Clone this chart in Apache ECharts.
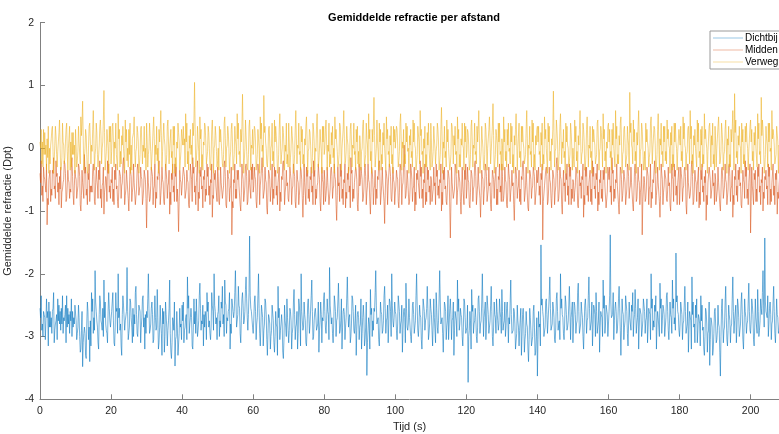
<!DOCTYPE html>
<html>
<head>
<meta charset="utf-8">
<script src="https://cdn.jsdelivr.net/npm/echarts@6/dist/echarts.min.js"></script>
<style>
  html, body { margin: 0; padding: 0; background: #fff; }
  #chart { width: 779px; height: 434px; }
</style>
</head>
<body>
<div id="chart"></div>
<script>
// three sample sets per curve, read in 0.5 s rows: "A" at t = 0, 0.5, 1 ...,
// "B" 1/6 step later and "C" 2/6 step later
const step = 0.5;
const seriesNames = ['Dichtbij', 'Midden', 'Verweg'];
const xTicks = [0, 20, 40, 60, 80, 100, 120, 140, 160, 180, 200];
const yTicks = [-4, -3, -2, -1, 0, 1, 2];

const dichtbijA = [
  -2.55,-2.9,-2.6,-3.05,-2.7,-2.45,-2.85,-2.6,-3.1,-2.75,-2.4,-2.8,-2.55,-2.95,-2.65,-2.35,-2.8,-2.6,-3.0,-2.7,
  -2.5,-2.95,-2.7,-3.2,-3.48,-2.85,-3.35,-2.6,-3.4,-2.3,-2.95,-1.95,-2.75,-3.2,-2.45,-2.9,-2.1,-2.8,-3.1,-2.55,
  -2.85,-2.3,-3.15,-2.6,-2.0,-2.9,-3.3,-2.5,-2.75,-1.9,-2.95,-2.45,-3.1,-2.65,-2.2,-3.0,-2.55,-2.85,-2.35,-3.2,
  -2.6,-2.0,-2.9,-2.45,-3.05,-2.7,-2.25,-3.1,-2.8,-2.55,-3.25,-2.65,-2.9,-2.1,-3.35,-2.75,-3.47,-2.6,-3.3,-2.85,
  -2.5,-3.1,-2.7,-2.05,-2.95,-2.55,-3.2,-2.8,-2.4,-2.9,-2.15,-2.75,-3.15,-2.6,-2.3,-2.85,-3.05,-2.5,-2.0,-2.8,
  -2.65,-3.0,-2.45,-2.8,-2.1,-2.95,-2.6,-3.2,-2.4,-2.7,-1.95,-2.85,-2.5,-3.1,-2.3,-2.75,-2.05,-2.9,-1.4,-2.6,
  -2.95,-2.35,-2.8,-2.0,-3.15,-2.6,-2.9,-2.45,-3.3,-2.7,-3.0,-2.5,-3.25,-2.8,-2.2,-3.05,-2.65,-3.35,-2.75,-2.4,
  -3.1,-2.6,-2.95,-2.25,-2.85,-3.2,-2.5,-2.0,-2.9,-2.65,-3.15,-2.4,-2.8,-2.1,-3.0,-2.55,-2.85,-3.25,-2.45,-2.7,
  -2.3,-2.95,-2.6,-1.9,-2.8,-3.1,-2.45,-2.75,-2.15,-2.9,-3.2,-2.55,-2.85,-2.05,-2.7,-3.0,-2.4,-2.95,-3.3,-2.6,
  -2.85,-3.2,-2.5,-3.05,-3.62,-2.7,-2.25,-3.0,-2.55,-1.95,-2.8,-3.15,-2.6,-2.9,-2.2,-2.75,-3.1,-2.45,-2.0,-2.85,
  -2.6,-3.05,-2.35,-2.8,-3.25,-2.55,-2.15,-2.9,-2.7,-3.1,-2.45,-2.85,-2.0,-3.0,-2.65,-3.2,-2.5,-2.75,-2.2,-2.95,
  -2.55,-3.15,-2.7,-2.3,-2.95,-1.95,-2.8,-3.25,-2.5,-2.85,-3.05,-2.4,-2.75,-3.3,-2.6,-2.1,-2.9,-2.65,-3.15,-2.45,
  -2.9,-3.73,-2.6,-2.25,-2.95,-2.55,-3.1,-2.35,-2.8,-2.0,-2.7,-3.05,-2.5,-2.85,-2.2,-3.15,-2.65,-2.4,-2.9,-2.6,
  -2.25,-2.8,-3.0,-2.45,-2.7,-2.1,-2.95,-2.6,-3.2,-2.75,-2.9,-3.3,-2.55,-3.05,-2.8,-3.4,-2.7,-3.15,-2.5,-3.25,
  -3.63,-2.85,-1.54,-2.6,-3.0,-2.4,-2.75,-2.05,-2.9,-2.55,-3.1,-2.3,-2.8,-2.0,-2.65,-3.05,-2.45,-2.85,-2.2,-2.7,
  -3.1,-2.5,-2.8,-2.15,-2.95,-2.6,-3.2,-2.4,-2.75,-2.05,-2.9,-3.15,-2.55,-2.3,-2.85,-3.25,-2.65,-2.1,-2.95,-2.5,
  -2.8,-1.38,-2.7,-3.05,-2.45,-2.9,-2.2,-3.3,-2.6,-2.85,-2.35,-3.15,-2.7,-2.5,-3.0,-2.25,-2.8,-3.2,-2.55,-2.9,
  -2.4,-2.75,-3.1,-2.6,-2.0,-2.9,-2.5,-3.2,-2.7,-2.15,-2.95,-2.55,-2.85,-2.3,-3.05,-2.65,-2.1,-2.8,-1.67,-2.6,
  -3.0,-2.45,-2.8,-2.2,-2.95,-3.25,-2.6,-2.05,-2.85,-2.5,-3.1,-2.7,-2.35,-2.9,-3.3,-2.6,-2.95,-3.46,-2.75,-3.2,
  -2.55,-3.05,-2.8,-3.63,-2.4,-2.9,-2.2,-3.15,-2.65,-2.85,-2.05,-2.75,-3.1,-2.5,-2.9,-2.3,-3.2,-2.6,-2.8,-2.15,
  -2.95,-2.5,-3.15,-2.7,-2.25,-2.9,-2.55,-1.95,-1.43,-2.6,-3.0,-2.45,-2.8,-2.2,-3.1,-2.65,-2.9,-2.4,-2.75,-2.55
];
const dichtbijB = [
  -2.7,-2.8,-2.65,-2.75,-2.6,-2.85,-2.7,-2.55,-2.9,-2.65,-2.75,-2.6,-2.8,-2.7,-2.5,-2.85,-2.65,-2.75,-2.6,-2.8,
  -2.75,-2.85,-3.0,-2.9,-3.1,-2.95,-2.8,-3.05,-2.75,-2.6,-2.7,-2.45,-2.85,-2.65,-2.75,-2.55,-2.7,-2.9,-2.6,-2.75,
  -2.6,-2.75,-2.85,-2.55,-2.7,-2.8,-2.65,-2.5,-2.75,-2.6,-2.85,-2.7,-2.55,-2.8,-2.65,-2.75,-2.6,-2.7,-2.85,-2.65,
  -2.7,-2.55,-2.8,-2.65,-2.75,-2.9,-2.7,-2.85,-2.95,-2.8,-3.0,-2.85,-2.75,-2.95,-3.1,-2.9,-3.05,-2.85,-2.95,-2.8,
  -2.75,-2.9,-2.65,-2.55,-2.8,-2.7,-2.85,-2.6,-2.7,-2.75,-2.55,-2.8,-2.65,-2.7,-2.6,-2.75,-2.85,-2.6,-2.5,-2.7,
  -2.6,-2.75,-2.55,-2.65,-2.45,-2.7,-2.55,-2.8,-2.5,-2.6,-2.45,-2.65,-2.55,-2.75,-2.5,-2.6,-2.4,-2.65,-2.35,-2.6,
  -2.75,-2.6,-2.7,-2.55,-2.85,-2.7,-2.8,-2.65,-2.95,-2.8,-2.9,-2.75,-3.0,-2.85,-2.7,-2.9,-2.8,-3.05,-2.85,-2.7,
  -2.9,-2.75,-2.85,-2.65,-2.8,-2.95,-2.7,-2.6,-2.85,-2.75,-2.9,-2.65,-2.8,-2.6,-2.75,-2.7,-2.8,-2.9,-2.65,-2.75,
  -2.6,-2.75,-2.65,-2.5,-2.7,-2.8,-2.6,-2.7,-2.55,-2.75,-2.85,-2.65,-2.7,-2.5,-2.65,-2.8,-2.6,-2.75,-2.9,-2.7,
  -2.8,-2.95,-2.7,-2.85,-3.1,-2.8,-2.65,-2.75,-2.6,-2.5,-2.7,-2.85,-2.65,-2.75,-2.55,-2.7,-2.8,-2.6,-2.5,-2.7,
  -2.65,-2.8,-2.6,-2.75,-2.9,-2.7,-2.55,-2.8,-2.7,-2.85,-2.65,-2.75,-2.5,-2.8,-2.7,-2.85,-2.6,-2.7,-2.55,-2.8,
  -2.65,-2.8,-2.7,-2.55,-2.75,-2.45,-2.7,-2.85,-2.6,-2.75,-2.8,-2.65,-2.7,-2.9,-2.75,-2.6,-2.8,-2.7,-2.85,-2.7,
  -2.85,-3.0,-2.75,-2.6,-2.8,-2.7,-2.85,-2.6,-2.75,-2.55,-2.7,-2.8,-2.65,-2.75,-2.6,-2.85,-2.7,-2.6,-2.8,-2.7,
  -2.6,-2.75,-2.85,-2.7,-2.8,-2.65,-2.9,-2.8,-2.95,-2.85,-2.9,-3.0,-2.8,-2.95,-2.85,-3.05,-2.9,-3.0,-2.85,-3.0,
  -3.05,-2.8,-2.5,-2.7,-2.85,-2.65,-2.75,-2.55,-2.8,-2.7,-2.85,-2.6,-2.75,-2.55,-2.7,-2.8,-2.65,-2.75,-2.6,-2.7,
  -2.8,-2.65,-2.75,-2.6,-2.8,-2.7,-2.85,-2.6,-2.7,-2.55,-2.75,-2.85,-2.65,-2.6,-2.75,-2.85,-2.7,-2.55,-2.8,-2.65,
  -2.6,-2.45,-2.65,-2.75,-2.6,-2.7,-2.55,-2.85,-2.65,-2.75,-2.6,-2.8,-2.7,-2.6,-2.75,-2.55,-2.7,-2.85,-2.65,-2.75,
  -2.6,-2.7,-2.85,-2.65,-2.55,-2.75,-2.6,-2.8,-2.7,-2.55,-2.75,-2.65,-2.7,-2.6,-2.8,-2.7,-2.55,-2.7,-2.45,-2.65,
  -2.8,-2.65,-2.75,-2.6,-2.8,-2.9,-2.75,-2.65,-2.8,-2.7,-2.9,-2.8,-2.75,-2.85,-3.0,-2.8,-2.9,-3.05,-2.85,-2.95,
  -2.8,-2.9,-2.85,-3.0,-2.75,-2.85,-2.7,-2.9,-2.75,-2.8,-2.6,-2.75,-2.85,-2.7,-2.8,-2.65,-2.85,-2.7,-2.75,-2.6,
  -2.75,-2.65,-2.85,-2.7,-2.6,-2.75,-2.65,-2.5,-2.45,-2.7,-2.8,-2.65,-2.75,-2.6,-2.8,-2.7,-2.75,-2.6,-2.7,-2.65
];
const dichtbijC = [
  -2.35,-3.0,-2.7,-2.4,-3.15,-2.6,-2.95,-2.3,-2.8,-3.05,-2.5,-2.9,-2.35,-2.75,-3.1,-2.55,-2.95,-2.4,-2.85,-2.5,
  -3.05,-2.5,-3.25,-2.6,-2.95,-3.3,-2.45,-2.85,-3.15,-2.4,-2.9,-2.6,-3.1,-2.35,-2.8,-3.0,-2.45,-2.95,-2.3,-2.85,
  -2.45,-3.1,-2.3,-2.95,-2.55,-3.15,-2.35,-2.9,-2.6,-3.05,-2.4,-2.85,-3.0,-2.3,-2.95,-2.5,-3.1,-2.4,-2.7,-2.95,
  -2.4,-2.95,-2.55,-3.1,-2.35,-2.85,-3.2,-2.5,-3.3,-2.6,-2.45,-3.15,-2.55,-3.25,-2.7,-2.45,-3.0,-3.3,-2.55,-3.05,
  -2.45,-2.85,-3.05,-2.35,-2.7,-3.15,-2.4,-2.95,-3.0,-2.35,-2.9,-2.5,-2.85,-3.05,-2.45,-2.95,-2.3,-2.9,-2.6,-3.05,
  -2.35,-2.85,-2.2,-3.0,-2.5,-2.75,-2.3,-2.95,-2.6,-2.3,-2.85,-2.2,-2.95,-2.4,-2.8,-2.25,-2.7,-2.3,-2.55,-2.85,
  -2.45,-3.05,-2.35,-2.95,-2.5,-3.15,-2.4,-3.05,-2.65,-3.2,-2.5,-3.1,-2.6,-3.3,-2.55,-2.8,-3.25,-2.5,-3.0,-2.9,
  -2.55,-3.2,-2.45,-3.05,-2.6,-2.4,-3.15,-2.75,-2.45,-3.1,-2.5,-2.95,-2.35,-3.05,-2.6,-2.9,-2.45,-2.75,-3.1,-2.4,
  -2.85,-2.4,-3.05,-2.5,-2.95,-2.35,-3.0,-2.45,-2.95,-2.4,-2.6,-3.05,-2.4,-2.85,-3.1,-2.35,-2.9,-2.5,-2.65,-3.05,
  -2.4,-2.7,-3.15,-2.45,-2.9,-3.2,-2.55,-2.9,-2.3,-2.8,-3.05,-2.45,-2.95,-2.35,-2.95,-2.5,-2.4,-3.0,-2.75,-2.45,
  -2.9,-2.35,-2.95,-2.5,-2.6,-3.1,-2.85,-2.4,-3.0,-2.5,-2.95,-2.35,-2.9,-2.5,-3.05,-2.4,-2.9,-2.55,-3.05,-2.4,
  -2.9,-2.4,-3.1,-2.85,-2.4,-2.8,-2.95,-2.45,-3.05,-2.35,-2.55,-3.05,-2.45,-2.6,-3.0,-2.4,-2.55,-3.0,-2.4,-2.95,
  -2.5,-2.9,-3.2,-2.5,-2.75,-3.0,-2.4,-2.95,-2.45,-3.0,-2.45,-2.35,-2.95,-2.5,-3.0,-2.45,-2.95,-2.75,-2.4,-2.95,
  -2.9,-2.45,-2.55,-3.1,-2.45,-2.95,-2.55,-3.2,-2.5,-3.15,-2.55,-2.65,-3.25,-2.6,-3.2,-2.55,-3.15,-2.6,-3.3,-2.7,
  -2.6,-3.15,-2.4,-3.0,-2.45,-2.95,-2.35,-2.9,-2.45,-3.05,-2.4,-2.9,-3.05,-2.4,-2.95,-2.35,-2.9,-2.5,-3.05,-2.45,
  -2.45,-2.95,-2.3,-2.95,-2.45,-3.0,-2.5,-2.95,-2.35,-2.9,-2.45,-2.5,-3.0,-2.95,-2.45,-2.6,-3.0,-2.35,-2.5,-3.0,
  -2.35,-2.7,-2.3,-2.55,-2.95,-2.4,-2.9,-2.4,-3.05,-2.35,-2.95,-2.45,-2.9,-2.3,-2.65,-2.95,-2.4,-2.55,-3.0,-2.4,
  -2.95,-2.4,-2.55,-3.05,-2.4,-2.85,-2.35,-2.6,-3.0,-2.4,-2.5,-3.0,-2.35,-2.9,-2.45,-2.95,-2.4,-2.9,-2.35,-2.9,
  -2.45,-3.05,-2.5,-2.95,-2.45,-2.6,-3.2,-2.45,-3.1,-2.4,-2.65,-3.15,-2.5,-3.2,-2.55,-3.25,-2.45,-2.7,-3.3,-2.6,
  -3.1,-2.5,-3.25,-2.55,-3.1,-2.45,-3.05,-2.5,-3.1,-2.4,-2.95,-2.5,-2.4,-3.0,-2.45,-3.05,-2.4,-2.95,-2.45,-2.9,
  -2.4,-3.05,-2.4,-2.95,-3.0,-2.4,-2.3,-2.85,-2.6,-2.35,-2.55,-3.05,-2.45,-2.95,-2.4,-2.95,-2.45,-2.95,-2.4,-2.85
];

const middenA = [
  -0.4,-0.75,-0.3,-0.6,-1.22,-0.5,-0.85,-0.35,-0.65,-0.2,-0.7,-0.45,-0.95,-0.55,-0.25,-0.8,-0.5,-0.65,-0.15,-0.9,
  -0.45,-0.7,-0.3,-1.0,-0.55,-0.1,-0.75,-0.4,-0.85,-0.6,-0.25,-0.9,-0.5,-0.35,-0.8,-0.6,-1.05,-0.45,-0.2,-0.7,
  -0.5,-0.85,-0.35,-0.65,-0.95,-0.4,-0.6,-0.15,-0.75,-0.5,-1.0,-0.3,-0.7,-0.55,-0.9,-0.25,-0.65,-0.45,-0.8,-0.35,
  -1.27,-0.55,-0.8,-0.3,-0.65,-0.95,-0.45,-0.2,-0.75,-0.5,-0.9,-0.35,-0.6,-1.05,-0.4,-0.7,-0.25,-0.85,-1.33,-0.5,
  -0.6,-0.3,-0.8,-0.5,-0.95,-0.4,-0.15,-0.7,-0.55,-1.0,-0.35,-0.65,-0.45,-0.85,-0.25,-0.75,-0.5,-1.1,-0.4,-0.6,
  -0.3,-0.9,-0.55,-0.7,-0.2,-0.95,-0.45,-0.65,-1.38,-0.5,-0.8,-0.35,-0.6,-1.0,-0.4,-0.75,-0.25,-0.85,-0.55,-0.3,
  -0.7,-0.45,-0.95,-0.35,-0.6,-0.15,-0.8,-0.5,-1.05,-0.4,-0.65,-0.9,-0.3,-0.75,-0.55,-1.0,-0.45,-0.2,-0.7,-0.6,
  -0.85,-0.4,-0.65,-0.25,-0.95,-0.5,-0.75,-0.35,-1.1,-0.55,-0.3,-0.8,-0.45,-0.7,-0.2,-0.9,-0.6,-0.4,-1.0,-0.5,
  -0.35,-0.75,-0.55,-0.9,-0.3,-0.65,-0.45,-1.15,-0.6,-0.25,-0.8,-0.5,-0.95,-0.4,-0.7,-0.15,-0.85,-0.55,-0.35,-1.0,
  -0.6,-0.4,-0.8,-0.25,-0.7,-0.5,-1.05,-0.35,-0.65,-0.9,-0.45,-0.2,-0.75,-0.55,-1.2,-0.4,-0.6,-0.3,-0.85,-0.5,
  -0.7,-0.45,-0.95,-0.3,-0.6,0.05,-0.75,-0.5,-0.85,-0.35,-0.65,-1.0,-0.4,-0.55,-0.2,-0.8,-0.5,-0.9,-0.3,-0.7,
  -0.45,-0.85,-0.6,-0.25,-0.75,-0.5,-1.0,-0.35,-0.65,-0.9,-0.4,-1.43,-0.55,-0.8,-0.3,-0.7,-0.45,-1.05,-0.6,-0.35,
  -0.8,-0.5,-0.95,-0.4,-0.65,-0.2,-0.75,-0.55,-1.1,-0.45,-0.7,-0.3,-0.85,-0.6,-1.0,-0.35,-0.55,-0.9,-0.45,-0.7,
  -0.25,-0.8,-0.5,-0.95,-0.4,-0.7,-0.6,-1.15,-0.35,-0.65,-0.85,-0.45,-0.2,-0.75,-0.55,-1.0,-0.4,-0.65,-0.3,-0.9,
  -0.55,-0.75,-0.4,-1.46,-0.6,-0.3,-0.85,-0.5,-0.95,-0.35,-0.7,-0.15,-0.8,-0.45,-1.05,-0.6,-0.4,-0.75,-0.25,-0.9,
  -0.5,-0.7,-0.35,-0.95,-0.6,-0.45,-1.1,-0.3,-0.75,-0.55,-0.85,-0.2,-0.65,-0.4,-1.0,-0.5,-0.8,-0.35,-0.6,-0.95,
  -0.4,-0.7,-0.15,-0.85,-0.5,-0.6,-1.05,-0.35,-0.75,-0.45,-0.9,-0.3,-0.65,-0.55,-1.0,-0.25,-0.8,-0.5,-0.7,-1.38,
  -0.45,-0.8,-0.3,-0.65,-0.95,-0.5,-0.2,-0.75,-0.55,-1.1,-0.4,-0.7,-0.35,-0.85,-0.6,-1.0,-0.45,-0.25,-0.75,-0.55,
  -0.9,-0.4,-0.65,-0.3,-1.05,-0.55,-0.75,-0.2,-0.85,-0.5,-0.6,-0.95,-0.35,-0.7,-0.45,-1.15,-0.55,-0.3,-0.8,-0.6,
  -0.4,-0.85,-0.55,-1.0,-0.3,-0.7,-0.5,-0.9,-0.25,-0.65,-1.1,-0.45,-0.75,-0.35,-0.6,-0.95,-0.5,-0.2,-0.8,-0.55,
  -1.35,-0.6,-0.4,-0.85,-0.3,-0.7,-0.5,-1.0,-0.45,-0.65,-0.25,-0.9,-0.55,-0.75,-0.4,-1.05,-0.6,-0.35,-0.8,-0.5
];
const middenB = [
  -0.55,-0.6,-0.45,-0.7,-0.8,-0.5,-0.65,-0.4,-0.6,-0.45,-0.55,-0.65,-0.7,-0.5,-0.4,-0.6,-0.55,-0.7,-0.45,-0.6,
  -0.5,-0.6,-0.45,-0.75,-0.55,-0.4,-0.65,-0.5,-0.6,-0.7,-0.45,-0.55,-0.6,-0.5,-0.65,-0.55,-0.7,-0.5,-0.4,-0.6,
  -0.55,-0.65,-0.5,-0.6,-0.7,-0.45,-0.55,-0.4,-0.65,-0.5,-0.7,-0.45,-0.6,-0.55,-0.65,-0.4,-0.6,-0.5,-0.65,-0.5,
  -0.8,-0.55,-0.6,-0.45,-0.6,-0.7,-0.5,-0.45,-0.6,-0.55,-0.65,-0.5,-0.55,-0.7,-0.5,-0.6,-0.45,-0.65,-0.85,-0.55,
  -0.6,-0.45,-0.65,-0.55,-0.7,-0.5,-0.4,-0.6,-0.55,-0.7,-0.45,-0.6,-0.5,-0.65,-0.45,-0.6,-0.55,-0.75,-0.5,-0.6,
  -0.45,-0.65,-0.55,-0.6,-0.45,-0.7,-0.5,-0.6,-0.85,-0.55,-0.65,-0.5,-0.6,-0.7,-0.5,-0.6,-0.45,-0.65,-0.55,-0.5,
  -0.6,-0.5,-0.7,-0.45,-0.6,-0.4,-0.65,-0.55,-0.7,-0.5,-0.6,-0.65,-0.45,-0.6,-0.55,-0.7,-0.5,-0.45,-0.6,-0.55,
  -0.65,-0.5,-0.6,-0.45,-0.7,-0.55,-0.6,-0.5,-0.75,-0.55,-0.45,-0.65,-0.5,-0.6,-0.45,-0.65,-0.55,-0.5,-0.7,-0.55,
  -0.5,-0.6,-0.55,-0.65,-0.45,-0.6,-0.5,-0.75,-0.55,-0.45,-0.65,-0.55,-0.7,-0.5,-0.6,-0.4,-0.65,-0.55,-0.5,-0.7,
  -0.55,-0.5,-0.65,-0.45,-0.6,-0.55,-0.7,-0.5,-0.6,-0.65,-0.5,-0.45,-0.6,-0.55,-0.75,-0.5,-0.6,-0.45,-0.65,-0.55,
  -0.6,-0.5,-0.7,-0.45,-0.55,-0.3,-0.6,-0.5,-0.65,-0.5,-0.6,-0.7,-0.5,-0.55,-0.45,-0.65,-0.55,-0.7,-0.5,-0.6,
  -0.5,-0.65,-0.55,-0.45,-0.6,-0.55,-0.7,-0.5,-0.6,-0.65,-0.5,-0.85,-0.55,-0.65,-0.45,-0.6,-0.55,-0.7,-0.6,-0.5,
  -0.65,-0.55,-0.7,-0.5,-0.6,-0.45,-0.6,-0.55,-0.75,-0.5,-0.6,-0.45,-0.65,-0.55,-0.7,-0.5,-0.55,-0.65,-0.5,-0.6,
  -0.45,-0.65,-0.55,-0.7,-0.5,-0.6,-0.55,-0.75,-0.5,-0.6,-0.65,-0.5,-0.45,-0.6,-0.55,-0.7,-0.5,-0.6,-0.45,-0.65,
  -0.55,-0.6,-0.5,-0.85,-0.6,-0.45,-0.65,-0.55,-0.7,-0.5,-0.6,-0.4,-0.65,-0.5,-0.7,-0.55,-0.5,-0.6,-0.45,-0.65,
  -0.55,-0.6,-0.5,-0.7,-0.55,-0.5,-0.75,-0.45,-0.6,-0.55,-0.65,-0.45,-0.6,-0.5,-0.7,-0.55,-0.65,-0.5,-0.6,-0.7,
  -0.5,-0.6,-0.4,-0.65,-0.55,-0.6,-0.7,-0.5,-0.6,-0.55,-0.65,-0.45,-0.6,-0.55,-0.7,-0.45,-0.6,-0.55,-0.6,-0.85,
  -0.55,-0.65,-0.45,-0.6,-0.7,-0.55,-0.45,-0.6,-0.55,-0.75,-0.5,-0.6,-0.5,-0.65,-0.55,-0.7,-0.5,-0.45,-0.6,-0.55,
  -0.65,-0.5,-0.6,-0.45,-0.7,-0.55,-0.6,-0.45,-0.65,-0.55,-0.6,-0.7,-0.5,-0.6,-0.55,-0.75,-0.55,-0.5,-0.6,-0.55,
  -0.5,-0.65,-0.55,-0.7,-0.5,-0.6,-0.55,-0.65,-0.45,-0.6,-0.75,-0.5,-0.6,-0.5,-0.55,-0.7,-0.55,-0.45,-0.65,-0.55,
  -0.85,-0.6,-0.5,-0.65,-0.45,-0.6,-0.55,-0.7,-0.5,-0.6,-0.45,-0.65,-0.55,-0.6,-0.5,-0.7,-0.6,-0.5,-0.65,-0.55
];
const middenC = [
  -0.2,-0.85,-0.5,-0.25,-0.9,-0.35,-0.75,-0.15,-0.8,-0.4,-0.9,-0.3,-0.65,-0.2,-0.85,-0.35,-0.8,-0.25,-0.75,-0.35,
  -0.8,-0.25,-0.9,-0.35,-0.8,-0.3,-0.9,-0.25,-0.7,-0.35,-0.85,-0.3,-0.8,-0.2,-0.95,-0.3,-0.6,-0.85,-0.25,-0.8,
  -0.3,-0.9,-0.25,-0.85,-0.35,-0.8,-0.25,-0.9,-0.35,-0.8,-0.3,-0.85,-0.25,-0.9,-0.35,-0.75,-0.3,-0.9,-0.35,-0.8,
  -0.35,-0.85,-0.3,-0.9,-0.25,-0.8,-0.35,-0.9,-0.3,-0.85,-0.25,-0.8,-0.35,-0.9,-0.25,-0.85,-0.3,-0.9,-0.35,-0.75,
  -0.3,-0.8,-0.35,-0.9,-0.25,-0.85,-0.3,-0.9,-0.2,-0.8,-0.3,-0.95,-0.35,-0.75,-0.3,-0.9,-0.25,-0.8,-0.35,-0.85,
  -0.85,-0.3,-0.8,-0.25,-0.9,-0.35,-0.85,-0.3,-0.95,-0.25,-0.8,-0.35,-0.9,-0.25,-0.85,-0.3,-0.9,-0.35,-0.8,-0.25,
  -0.3,-0.85,-0.25,-0.9,-0.35,-0.8,-0.3,-0.95,-0.35,-0.85,-0.25,-0.8,-0.35,-0.9,-0.3,-0.85,-0.25,-0.9,-0.35,-0.8,
  -0.3,-0.9,-0.25,-0.85,-0.35,-0.9,-0.3,-0.8,-0.25,-0.9,-0.35,-0.85,-0.3,-0.9,-0.35,-0.8,-0.25,-0.85,-0.3,-0.9,
  -0.85,-0.3,-0.9,-0.35,-0.8,-0.25,-0.9,-0.3,-0.85,-0.35,-0.9,-0.25,-0.8,-0.3,-0.95,-0.35,-0.8,-0.3,-0.9,-0.25,
  -0.3,-0.85,-0.35,-0.9,-0.25,-0.85,-0.3,-0.9,-0.35,-0.8,-0.25,-0.9,-0.3,-0.85,-0.35,-0.9,-0.25,-0.8,-0.3,-0.9,
  -0.35,-0.85,-0.25,-0.9,-0.3,-0.8,-0.35,-0.9,-0.25,-0.85,-0.3,-0.9,-0.35,-0.8,-0.3,-0.95,-0.25,-0.85,-0.35,-0.9,
  -0.85,-0.3,-0.9,-0.35,-0.8,-0.25,-0.9,-0.3,-0.85,-0.35,-0.95,-0.3,-0.8,-0.25,-0.9,-0.35,-0.85,-0.3,-0.9,-0.25,
  -0.3,-0.9,-0.35,-0.85,-0.25,-0.9,-0.3,-0.8,-0.35,-0.9,-0.25,-0.85,-0.3,-0.9,-0.35,-0.8,-0.3,-0.9,-0.25,-0.85,
  -0.85,-0.3,-0.9,-0.25,-0.85,-0.35,-0.9,-0.3,-0.8,-0.35,-0.9,-0.25,-0.85,-0.3,-0.95,-0.35,-0.8,-0.3,-0.9,-0.35,
  -0.3,-0.9,-0.25,-0.85,-0.35,-0.9,-0.3,-0.8,-0.35,-0.9,-0.25,-0.85,-0.3,-0.9,-0.35,-0.85,-0.25,-0.9,-0.3,-0.8,
  -0.85,-0.3,-0.9,-0.35,-0.8,-0.25,-0.9,-0.3,-0.85,-0.35,-0.9,-0.3,-0.8,-0.25,-0.9,-0.35,-0.85,-0.3,-0.95,-0.3,
  -0.3,-0.9,-0.35,-0.8,-0.25,-0.9,-0.3,-0.85,-0.35,-0.9,-0.25,-0.8,-0.3,-0.9,-0.35,-0.85,-0.3,-0.9,-0.25,-0.85,
  -0.85,-0.3,-0.9,-0.25,-0.8,-0.35,-0.9,-0.3,-0.85,-0.25,-0.9,-0.35,-0.8,-0.3,-0.9,-0.25,-0.85,-0.35,-0.9,-0.3,
  -0.3,-0.85,-0.35,-0.9,-0.25,-0.8,-0.3,-0.9,-0.35,-0.85,-0.3,-0.9,-0.25,-0.85,-0.35,-0.9,-0.3,-0.8,-0.35,-0.9,
  -0.85,-0.3,-0.9,-0.35,-0.8,-0.25,-0.9,-0.3,-0.85,-0.35,-0.9,-0.25,-0.85,-0.3,-0.9,-0.35,-0.8,-0.3,-0.9,-0.25,
  -0.3,-0.9,-0.35,-0.85,-0.25,-0.9,-0.3,-0.8,-0.35,-0.9,-0.3,-0.85,-0.25,-0.9,-0.35,-0.8,-0.3,-0.9,-0.35,-0.85
];

const verwegA = [
  0.1,-0.25,0.3,-0.1,0.15,-0.4,0.05,0.35,-0.2,0.2,-0.05,0.45,-0.3,0.1,-0.15,0.4,0.0,-0.35,0.25,-0.1,
  0.3,-0.2,0.1,0.5,0.75,-0.15,0.2,-0.35,0.4,0.05,0.6,-0.1,0.25,-0.3,0.45,0.0,0.92,-0.2,0.15,0.35,
  -0.25,0.4,0.1,-0.1,0.55,-0.3,0.2,0.0,0.45,-0.2,0.3,-0.4,0.15,0.5,-0.05,0.25,-0.25,0.35,0.05,-0.15,
  0.4,-0.1,0.2,-0.35,0.5,0.05,-0.2,0.3,0.6,-0.05,0.15,-0.3,0.45,0.0,-0.15,0.35,-0.4,0.1,0.25,-0.2,
  0.3,0.05,0.55,-0.25,0.2,-0.1,0.4,1.05,-0.2,0.15,0.5,-0.3,0.1,0.35,-0.15,0.25,-0.35,0.45,0.0,0.2,
  -0.2,0.35,0.1,-0.3,0.5,0.0,0.25,-0.15,0.4,-0.25,0.15,0.55,-0.1,0.3,0.86,-0.2,0.2,-0.35,0.45,0.05,
  -0.1,0.3,-0.25,0.15,0.5,-0.05,0.84,0.1,-0.3,0.35,0.0,-0.2,0.45,0.2,-0.35,0.55,-0.1,0.25,0.05,-0.25,
  0.4,-0.15,0.2,-0.3,0.6,0.05,-0.1,0.35,-0.25,0.15,0.5,-0.05,0.25,-0.4,0.3,0.0,0.55,-0.2,0.1,0.35,
  -0.1,0.45,0.05,-0.3,0.25,-0.15,0.5,0.1,-0.25,0.35,0.0,0.6,-0.2,0.15,-0.35,0.4,0.05,-0.1,0.3,-0.25,
  0.2,-0.05,0.45,-0.3,0.15,0.55,-0.2,0.3,0.81,-0.15,0.1,0.4,-0.35,0.25,0.0,0.5,-0.1,0.2,-0.25,0.35,
  0.0,0.3,-0.2,0.55,0.1,-0.3,0.4,-0.05,0.2,-0.15,0.45,0.05,-0.25,0.35,0.6,-0.1,0.15,-0.3,0.25,0.0,
  0.4,-0.2,0.15,-0.05,0.3,-0.35,0.65,0.1,-0.15,0.45,0.0,-0.25,0.35,0.2,-0.1,0.5,-0.3,0.15,0.05,0.4,
  -0.15,0.25,-0.3,0.45,0.05,-0.1,0.35,0.6,-0.2,0.15,-0.35,0.3,0.0,0.5,-0.05,0.71,-0.25,0.2,0.4,-0.1,
  0.15,0.5,-0.2,0.3,-0.05,0.4,-0.3,0.2,0.55,0.0,-0.15,0.35,0.1,-0.25,0.6,0.05,-0.1,0.45,-0.3,0.2,
  0.35,-0.1,0.25,-0.35,0.5,0.0,0.4,-0.2,0.15,0.91,-0.05,0.3,-0.25,0.55,0.1,-0.15,0.4,0.05,-0.3,0.25,
  0.0,0.45,-0.2,0.2,0.6,-0.1,0.3,-0.3,0.5,0.05,-0.15,0.35,0.15,-0.25,0.45,-0.05,0.25,0.55,-0.2,0.1,
  0.4,-0.15,0.3,0.0,0.6,-0.25,0.2,0.5,-0.1,0.35,-0.3,0.15,0.89,0.05,0.45,-0.2,0.25,0.6,-0.05,0.3,
  -0.25,0.4,0.1,-0.15,0.5,0.0,0.3,-0.3,0.55,0.15,-0.1,0.35,-0.2,0.45,0.05,0.25,-0.35,0.4,0.1,-0.05,
  0.3,-0.2,0.5,0.05,-0.1,0.35,0.6,-0.25,0.2,0.0,0.45,-0.15,0.3,-0.3,0.55,0.1,-0.05,0.4,0.2,-0.25,
  0.35,0.0,0.5,-0.2,0.25,-0.1,0.45,0.15,-0.3,0.3,0.6,0.87,-0.15,0.2,0.05,0.4,-0.25,0.35,0.1,-0.05,
  0.45,-0.2,0.25,0.0,0.55,-0.1,0.81,0.3,-0.3,0.15,0.4,-0.05,0.6,0.2,-0.25,0.35,0.05,0.5,-0.15,0.25
];
const verwegB = [
  0.0,0.1,-0.1,0.05,-0.15,0.0,0.15,-0.05,0.05,-0.1,0.1,0.0,-0.15,0.05,0.1,-0.05,0.0,0.1,-0.1,0.05,
  0.05,-0.05,0.1,0.2,0.15,0.0,-0.1,0.05,0.1,-0.05,0.15,0.0,-0.1,0.05,0.2,0.1,0.25,-0.05,0.0,0.1,
  -0.05,0.1,0.0,-0.1,0.15,-0.05,0.05,-0.15,0.1,0.0,-0.1,0.05,0.15,-0.05,0.0,0.1,-0.1,0.05,-0.05,0.0,
  0.1,0.0,-0.05,0.05,0.15,-0.1,0.0,0.1,0.2,-0.05,0.05,-0.1,0.1,0.0,-0.05,0.05,-0.15,0.0,0.1,-0.05,
  0.05,0.15,0.1,-0.05,0.0,0.05,0.2,0.3,0.0,-0.05,0.15,-0.1,0.05,0.1,-0.05,0.0,-0.1,0.1,0.05,-0.05,
  0.0,0.1,-0.05,-0.1,0.15,0.05,0.0,-0.05,0.1,-0.1,0.05,0.15,-0.05,0.1,0.25,0.0,-0.05,-0.1,0.1,0.0,
  0.05,0.1,-0.1,0.0,0.15,0.05,0.25,0.0,-0.1,0.1,0.05,-0.05,0.1,0.0,-0.1,0.15,0.0,0.05,-0.05,-0.1,
  0.1,0.0,0.05,-0.1,0.15,0.0,-0.05,0.1,-0.1,0.05,0.15,0.0,0.05,-0.15,0.1,-0.05,0.15,0.0,-0.05,0.1,
  0.0,0.1,-0.05,-0.1,0.05,0.0,0.15,-0.05,-0.1,0.1,0.0,0.15,-0.05,0.05,-0.1,0.1,0.0,-0.05,0.1,-0.05,
  0.05,0.0,0.1,-0.1,0.05,0.15,-0.05,0.1,0.2,0.0,-0.05,0.1,-0.1,0.05,0.0,0.15,-0.05,0.05,-0.1,0.1,
  0.0,0.05,-0.05,0.15,0.0,-0.1,0.1,0.0,0.05,-0.05,0.1,0.0,-0.1,0.1,0.2,-0.05,0.0,-0.1,0.05,0.0,
  0.1,-0.05,0.0,0.05,0.1,-0.1,0.2,0.0,-0.05,0.1,0.0,-0.1,0.1,0.05,-0.05,0.15,-0.1,0.05,0.0,0.1,
  -0.05,0.05,-0.1,0.1,0.0,-0.05,0.1,0.15,-0.05,0.0,-0.1,0.05,0.0,0.15,-0.05,0.2,-0.1,0.05,0.1,-0.05,
  0.05,0.1,-0.05,0.05,0.0,0.1,-0.1,0.05,0.15,0.0,-0.05,0.1,0.0,-0.1,0.15,0.0,-0.05,0.1,-0.1,0.05,
  0.1,-0.05,0.05,-0.1,0.15,0.0,0.1,-0.05,0.05,0.25,0.0,0.1,-0.05,0.15,0.0,-0.05,0.1,0.0,-0.1,0.05,
  0.0,0.1,-0.05,0.05,0.15,-0.05,0.1,-0.1,0.15,0.0,-0.05,0.1,0.05,-0.1,0.1,0.0,0.05,0.15,-0.05,0.0,
  0.1,-0.05,0.05,0.0,0.15,-0.1,0.05,0.1,-0.05,0.1,-0.1,0.05,0.25,0.0,0.1,-0.05,0.05,0.15,0.0,0.05,
  -0.05,0.1,0.0,-0.05,0.15,0.0,0.05,-0.1,0.1,0.05,-0.05,0.1,-0.05,0.15,0.0,0.05,-0.1,0.1,0.0,-0.05,
  0.05,-0.05,0.15,0.0,-0.05,0.1,0.15,-0.1,0.05,0.0,0.1,-0.05,0.05,-0.1,0.15,0.0,-0.05,0.1,0.05,-0.1,
  0.1,0.0,0.15,-0.05,0.05,-0.05,0.1,0.05,-0.1,0.1,0.15,0.25,-0.05,0.05,0.0,0.1,-0.1,0.1,0.0,-0.05,
  0.1,-0.05,0.05,0.0,0.15,-0.05,0.2,0.05,-0.1,0.05,0.1,0.0,0.15,0.05,-0.1,0.1,0.0,0.15,-0.05,0.05
];
const verwegC = [
  0.3,-0.3,0.25,-0.35,0.35,-0.25,0.3,-0.4,0.35,-0.3,0.25,-0.35,0.4,-0.25,0.3,-0.35,0.35,-0.3,0.25,-0.4,
  -0.3,0.35,-0.25,0.4,-0.35,0.3,-0.4,0.35,-0.25,0.3,-0.35,0.4,-0.3,0.35,-0.25,0.45,-0.35,0.3,-0.4,0.35,
  0.35,-0.3,0.4,-0.35,0.3,-0.25,0.35,-0.4,0.3,-0.3,0.4,-0.35,0.25,-0.3,0.35,-0.4,0.3,-0.25,0.35,-0.35,
  -0.3,0.4,-0.35,0.3,-0.25,0.35,-0.4,0.3,-0.3,0.4,-0.35,0.35,-0.25,0.3,-0.4,0.35,-0.3,0.4,-0.35,0.3,
  0.35,-0.3,0.4,-0.35,0.3,-0.25,0.45,-0.3,0.35,-0.4,0.3,-0.35,0.4,-0.25,0.35,-0.3,0.3,-0.4,0.35,-0.3,
  -0.35,0.3,-0.25,0.4,-0.3,0.35,-0.4,0.3,-0.35,0.35,-0.25,0.4,-0.3,0.35,-0.4,0.45,-0.3,0.35,-0.35,0.3,
  0.35,-0.35,0.3,-0.4,0.4,-0.3,0.35,-0.25,0.3,-0.35,0.4,-0.3,0.35,-0.4,0.3,-0.25,0.35,-0.35,0.4,-0.3,
  -0.3,0.35,-0.4,0.3,-0.25,0.4,-0.35,0.3,-0.3,0.35,-0.4,0.3,-0.25,0.4,-0.35,0.35,-0.3,0.3,-0.4,0.35,
  0.3,-0.35,0.4,-0.25,0.35,-0.4,0.3,-0.3,0.4,-0.35,0.3,-0.25,0.35,-0.4,0.3,-0.3,0.4,-0.35,0.35,-0.3,
  -0.35,0.35,-0.3,0.4,-0.25,0.3,-0.4,0.35,-0.3,0.45,-0.35,0.3,-0.25,0.4,-0.35,0.3,-0.3,0.35,-0.4,0.3,
  0.35,-0.3,0.4,-0.35,0.3,-0.25,0.35,-0.4,0.3,-0.3,0.4,-0.35,0.35,-0.25,0.3,-0.4,0.35,-0.3,0.4,-0.35,
  -0.3,0.35,-0.25,0.4,-0.35,0.3,-0.4,0.35,-0.3,0.3,-0.35,0.4,-0.25,0.35,-0.4,0.3,-0.3,0.4,-0.35,0.35,
  0.3,-0.35,0.35,-0.3,0.4,-0.25,0.3,-0.4,0.35,-0.3,0.4,-0.35,0.3,-0.25,0.35,-0.4,0.3,-0.3,0.4,-0.35,
  -0.35,0.3,-0.3,0.4,-0.25,0.35,-0.4,0.3,-0.35,0.4,-0.3,0.35,-0.25,0.3,-0.4,0.35,-0.3,0.4,-0.35,0.3,
  0.35,-0.3,0.4,-0.25,0.3,-0.4,0.35,-0.35,0.3,-0.3,0.45,-0.35,0.35,-0.25,0.3,-0.4,0.35,-0.3,0.4,-0.35,
  -0.3,0.35,-0.4,0.3,-0.25,0.4,-0.35,0.3,-0.3,0.35,-0.4,0.3,-0.25,0.4,-0.35,0.35,-0.3,0.3,-0.4,0.35,
  0.3,-0.35,0.4,-0.3,0.35,-0.25,0.4,-0.4,0.3,-0.3,0.35,-0.35,0.4,-0.25,0.3,-0.4,0.35,-0.3,0.4,-0.35,
  -0.35,0.3,-0.3,0.4,-0.25,0.35,-0.4,0.3,-0.35,0.4,-0.3,0.35,-0.25,0.3,-0.4,0.35,-0.3,0.4,-0.35,0.3,
  0.35,-0.3,0.4,-0.35,0.3,-0.25,0.35,-0.4,0.3,-0.3,0.4,-0.35,0.35,-0.25,0.3,-0.4,0.35,-0.3,0.4,-0.35,
  -0.3,0.35,-0.25,0.4,-0.35,0.3,-0.4,0.35,-0.3,0.3,-0.35,0.45,-0.25,0.35,-0.4,0.3,-0.3,0.4,-0.35,0.35,
  0.3,-0.35,0.35,-0.3,0.4,-0.25,0.45,-0.4,0.35,-0.3,0.4,-0.35,0.3,-0.25,0.35,-0.4,0.3,-0.3,0.4,-0.35
];

// merge the three sample sets into one time-ordered [t, value] list
function merge(a, b, c) {
  const out = [];
  a.forEach((v, i) => {
    out.push([i * step, v]);
    out.push([i * step + step / 3, b[i]]);
    out.push([i * step + 2 * step / 3, c[i]]);
  });
  return out;
}

const colors = ['#0072BD', '#D95319', '#EDB120'];
const font = '"Liberation Sans", Arial, Helvetica, sans-serif';
// thin horizontal bar inside a 30x10 box, used as legend line sample
const legendLine = 'path://M0,0h0.01v0.01h-0.01z M0,4.5h30v1h-30z M29.99,9.99h0.01v0.01h-0.01z';

var myChart = echarts.init(document.getElementById('chart'));
var option = {
  animation: false,
  backgroundColor: '#fff',
  color: colors,
  textStyle: { fontFamily: font },
  title: {
    text: 'Gemiddelde refractie per afstand',
    left: 409,
    top: 7,
    textAlign: 'center',
    textStyle: { fontSize: 11, fontWeight: 'bold', color: '#000', fontFamily: font }
  },
  legend: {
    data: seriesNames,
    orient: 'vertical',
    left: 710,
    top: 31,
    padding: [2, 4, 2, 3],
    itemGap: 2,
    itemWidth: 30,
    itemHeight: 10,
    icon: legendLine,
    itemStyle: { opacity: 0.4 },
    borderColor: '#9a9a9a',
    borderWidth: 1,
    borderRadius: 0,
    backgroundColor: '#fff',
    textStyle: { fontSize: 10, color: '#000', fontFamily: font, padding: [0, 0, 0, -3] }
  },
  grid: { left: 40, right: 0, top: 22.7, bottom: 34.7, containLabel: false, outerBoundsMode: 'none' },
  xAxis: {
    type: 'value',
    min: 0,
    max: 208,
    interval: 20,
    name: 'Tijd (s)',
    nameLocation: 'middle',
    nameGap: 20,
    nameTextStyle: { fontSize: 11, color: '#262626' },
    axisLine: { onZero: false, lineStyle: { color: '#808080', width: 1 } },
    axisTick: { inside: true, length: 5, lineStyle: { color: '#808080' } },
    axisLabel: {
      fontSize: 10.5, color: '#262626', margin: 6,
      formatter: v => (xTicks.indexOf(v) >= 0 ? String(v) : '')
    },
    splitLine: { show: false }
  },
  yAxis: {
    type: 'value',
    min: -4,
    max: 2,
    interval: 1,
    name: 'Gemiddelde refractie (Dpt)',
    nameLocation: 'middle',
    nameGap: 22,
    nameTextStyle: { fontSize: 11, color: '#262626' },
    axisLine: { show: true, onZero: false, lineStyle: { color: '#808080', width: 1 } },
    axisTick: { show: true, inside: true, length: 5, lineStyle: { color: '#808080' } },
    axisLabel: {
      fontSize: 10.5, color: '#262626', margin: 6,
      formatter: v => (yTicks.indexOf(v) >= 0 ? String(v) : '')
    },
    splitLine: { show: false }
  },
  series: [
    { name: seriesNames[0], type: 'line', symbol: 'none', sampling: null,
      data: merge(dichtbijA, dichtbijB, dichtbijC), lineStyle: { width: 1, opacity: 0.55 } },
    { name: seriesNames[1], type: 'line', symbol: 'none', sampling: null,
      data: merge(middenA, middenB, middenC), lineStyle: { width: 1, opacity: 0.55 } },
    { name: seriesNames[2], type: 'line', symbol: 'none', sampling: null,
      data: merge(verwegA, verwegB, verwegC), lineStyle: { width: 1, opacity: 0.55 } }
  ]
};
myChart.setOption(option);
</script>
</body>
</html>
